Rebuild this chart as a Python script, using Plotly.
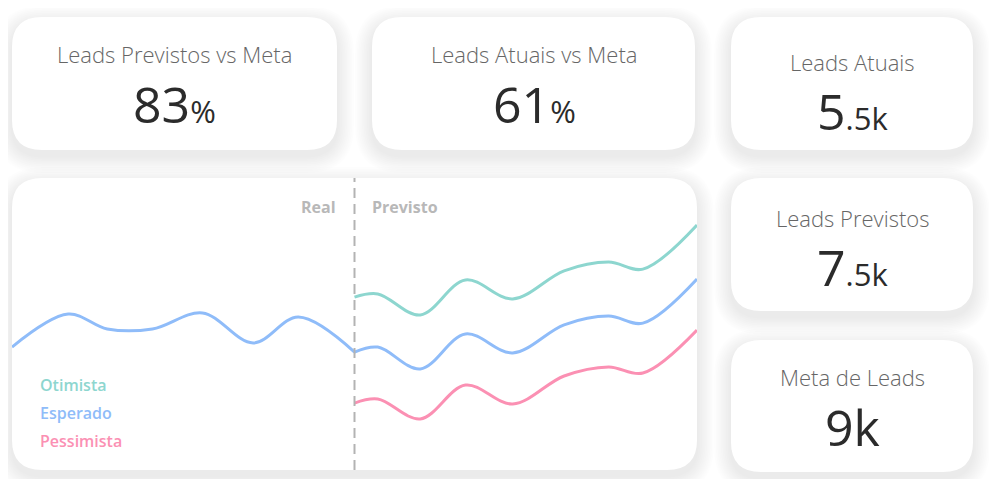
import plotly.graph_objects as go

# a página tem 8px de margem no body: a figura é um pouco menor e deslocada
OFF = 8
W, H = 997 - OFF, 479 - OFF

# linha real (antes do corte) e cenários previstos
x_real = [0, 8.2, 13.9, 20.5, 27.8, 35.2, 41.8, 50]
y_real = [42.1, 53.4, 48.3, 48.3, 53.8, 43.5, 52.4, 40.4]

x_prev = [50, 53.4, 59.6, 66.2, 73.1, 80.6, 87.1, 92.1, 100]
y_otimista = [59.2, 60.3, 53.1, 65.1, 58.6, 68.2, 71.2, 68.8, 83.9]
y_esperado = [40.4, 42.1, 34.6, 46.6, 40.1, 49.7, 52.7, 50.3, 65.4]
y_pessimista = [22.9, 24.3, 17.5, 29.1, 22.6, 32.2, 35.3, 33.2, 47.9]
x_corte = 50

cenarios = ["Otimista", "Esperado", "Pessimista"]
cores = ["#8dd6cf", "#8fbcf9", "#fb90b3"]

# cards de KPI
kpi_titulos = ["Leads Previstos vs Meta", "Leads Atuais vs Meta",
               "Leads Atuais", "Leads Previstos", "Meta de Leads"]
kpi_valores = ["83", "61", "5", "7", "9k"]
kpi_sufixos = ["%", "%", ".5k", ".5k", ""]

FONT = "Open Sans"


def px(x):
    return (x - OFF) / W


def py(y):
    return 1 - (y - OFF) / H


def rounded(x0, y0, x1, y1, r):
    pts = [
        ("M", x0 + r, y0), ("L", x1 - r, y0), ("Q", x1, y0, x1, y0 + r),
        ("L", x1, y1 - r), ("Q", x1, y1, x1 - r, y1), ("L", x0 + r, y1),
        ("Q", x0, y1, x0, y1 - r), ("L", x0, y0 + r), ("Q", x0, y0, x0 + r, y0),
    ]
    out = []
    for p in pts:
        cmd = p[0]
        coords = p[1:]
        s = []
        for i in range(0, len(coords), 2):
            s.append(f"{px(coords[i]):.5f},{py(coords[i + 1]):.5f}")
        out.append(cmd + " " + " ".join(s))
    return " ".join(out) + " Z"


cards = [
    (12, 17, 337, 150),
    (372, 17, 695, 150),
    (731, 17, 973, 150),
    (731, 178, 973, 311),
    (731, 340, 973, 472),
]
chart_card = (12, 178, 697, 470)

shapes = []
for (x0, y0, x1, y1) in cards + [chart_card]:
    # sombra suave
    for i in range(1, 11):
        e = i * 1.7
        shapes.append(dict(
            type="path", xref="paper", yref="paper", layer="below",
            path=rounded(x0 - e, y0 - e + 6, x1 + e, y1 + e + 6, 30 + e),
            fillcolor="rgba(0,0,0,0.007)", line=dict(width=0)))
for (x0, y0, x1, y1) in cards + [chart_card]:
    shapes.append(dict(
        type="path", xref="paper", yref="paper", layer="below",
        path=rounded(x0, y0, x1, y1, 30),
        fillcolor="white", line=dict(width=0)))

shapes.append(dict(
    type="line", xref="x", yref="paper", x0=x_corte, x1=x_corte,
    y0=py(470), y1=py(178),
    line=dict(color="#b3b3b3", width=2, dash="10px,6px")))

fig = go.Figure()
fig.add_trace(go.Scatter(x=x_real, y=y_real, mode="lines",
                         line=dict(color=cores[1], width=3, shape="spline"),
                         hoverinfo="skip"))
for nome, ys, cor in zip(cenarios, [y_otimista, y_esperado, y_pessimista], cores):
    fig.add_trace(go.Scatter(x=x_prev, y=ys, mode="lines", name=nome,
                             line=dict(color=cor, width=3, shape="spline"),
                             hoverinfo="skip"))

annotations = []
centros = [(174, 54, 104), (534, 54, 104), (852, 62, 111), (852, 218, 267), (852, 377, 427)]
for t, v, s, (cx, ty, vy) in zip(kpi_titulos, kpi_valores, kpi_sufixos, centros):
    annotations.append(dict(
        x=px(cx), y=py(ty), xref="paper", yref="paper", text=t, showarrow=False,
        font=dict(family=FONT, size=22, weight=300, color="#666666"),
        xanchor="center", yanchor="middle"))
    txt = v + (f"<span style='font-size:31px'>{s}</span>" if s else "")
    annotations.append(dict(
        x=px(cx), y=py(vy), xref="paper", yref="paper", text=txt, showarrow=False,
        font=dict(family=FONT, size=50, color="#2b2b2b"), xanchor="center", yanchor="middle"))

annotations.append(dict(
    x=px(338), y=py(207), xref="paper", yref="paper", text="Real", showarrow=False,
    font=dict(family=FONT, size=16, weight=700, color="#b8b8b8"),
    xanchor="right", yanchor="middle"))
annotations.append(dict(
    x=px(370), y=py(207), xref="paper", yref="paper", text="Previsto", showarrow=False,
    font=dict(family=FONT, size=16, weight=700, color="#b8b8b8"),
    xanchor="left", yanchor="middle"))

for nome, cor, yy in zip(cenarios, cores, [385, 413, 441]):
    annotations.append(dict(
        x=px(38), y=py(yy), xref="paper", yref="paper", text=nome, showarrow=False,
        font=dict(family=FONT, size=16, weight=600, color=cor),
        xanchor="left", yanchor="middle"))

fig.update_layout(
    width=W, height=H,
    margin=dict(l=0, r=0, t=0, b=0),
    paper_bgcolor="white",
    plot_bgcolor="rgba(0,0,0,0)",
    showlegend=False,
    shapes=shapes,
    annotations=annotations,
    xaxis=dict(range=[0, 100], domain=[px(12), px(697)], visible=False, fixedrange=True),
    yaxis=dict(range=[0, 100], domain=[py(470), py(178)], visible=False, fixedrange=True),
)

fig.write_html("out.html")
